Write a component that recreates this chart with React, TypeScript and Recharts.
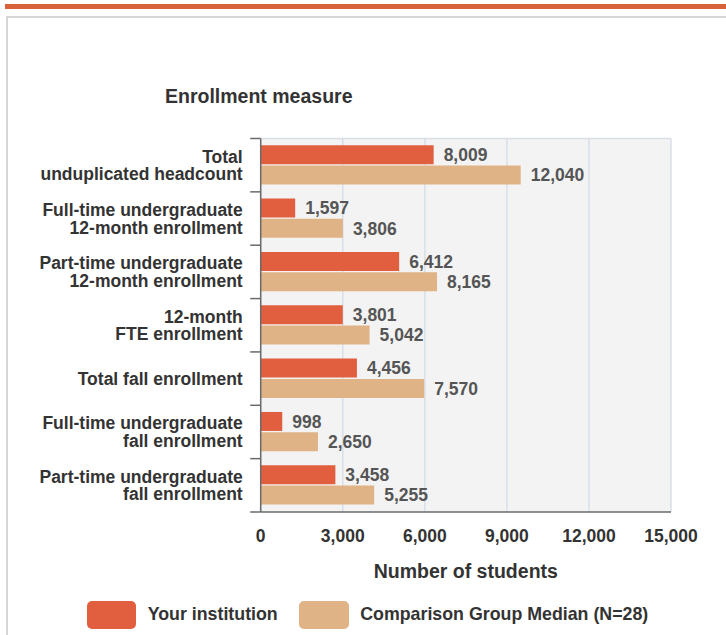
import React from 'react';
import { BarChart, Bar, XAxis, YAxis, CartesianGrid, LabelList } from 'recharts';

const categories = [
    'Total\nunduplicated headcount',
    'Full-time undergraduate\n12-month enrollment',
    'Part-time undergraduate\n12-month enrollment',
    '12-month\nFTE enrollment',
    'Total fall enrollment',
    'Full-time undergraduate\nfall enrollment',
    'Part-time undergraduate\nfall enrollment',
];
const yourInstitution = [8009, 1597, 6412, 3801, 4456, 998, 3458];
const comparisonMedian = [12040, 3806, 8165, 5042, 7570, 2650, 5255];
const xTicks = [0, 3000, 6000, 9000, 12000, 15000];
const seriesNames = ['Your institution', 'Comparison Group Median (N=28)'];

// the source plots its bars on a longer scale than the printed axis
const BAR_SCALE_MAX = 19000;

const RED = '#e15e3e';
const TAN = '#dfb385';
const AXIS = '#6a6a6a';
const GRID = '#d8dfe8';
const FONT = '"Liberation Sans", Arial, sans-serif';

const data = categories.map((name, i) => ({
    name,
    yours: yourInstitution[i],
    median: comparisonMedian[i],
}));

const fmt = (v: any) => Number(v).toLocaleString('en-US');

const CategoryTick = (props: any) => {
    const { x, y, payload } = props;
    const lines = String(payload.value).split('\n');
    const half = payload.offset ?? 0;
    const lineH = 17.7;
    const first = y + 6.2 - ((lines.length - 1) * lineH) / 2;
    const isLast = payload.value === categories[categories.length - 1];
    return (
        <g>
            <line x1={x + 7.5} x2={x + 18} y1={y - half} y2={y - half} stroke={AXIS} strokeWidth={1.5} />
            {isLast && <line x1={x + 7.5} x2={x + 18} y1={y + half} y2={y + half} stroke={AXIS} strokeWidth={1.5} />}
            <text x={x} y={first} textAnchor="end" fill="#333" fontSize={17.5} fontWeight="bold">
                {lines.map((l, i) => (
                    <tspan key={i} x={x} y={first + i * lineH}>{l}</tspan>
                ))}
            </text>
        </g>
    );
};

const App = () => {
    return (
        <div style={{ position: 'absolute', left: 0, top: 0, width: 726, height: 635, overflow: 'hidden', fontFamily: FONT, background: '#fff' }}>
            <div style={{ position: 'absolute', left: 5, top: 4, width: 721, height: 5, background: '#d8623b' }} />
            <div style={{ position: 'absolute', left: 6, top: 16, width: 800, height: 700, borderTop: '2px solid #d6d6d6', borderLeft: '2px solid #d6d6d6' }} />

            <div style={{ position: 'absolute', left: 0, top: 0 }}>
                <BarChart
                    width={726}
                    height={635}
                    data={data}
                    layout="vertical"
                    margin={{ top: 138.5, right: 55, bottom: 93, left: 0 }}
                    barCategoryGap="12.5%"
                    barGap={1.3}
                >
                    <CartesianGrid
                        xAxisId="ticks"
                        fill="#f3f3f3"
                        fillOpacity={1}
                        stroke={GRID}
                        strokeWidth={1.5}
                        horizontalCoordinatesGenerator={({ offset }: any) => [offset.top]}
                    />
                    <XAxis xAxisId="bars" type="number" domain={[0, BAR_SCALE_MAX]} height={0} hide />
                    <XAxis
                        xAxisId="ticks"
                        type="number"
                        domain={[0, 15000]}
                        ticks={xTicks}
                        allowDataOverflow
                        height={30}
                        tickLine={false}
                        tickSize={6}
                        tickMargin={12}
                        axisLine={{ stroke: AXIS, strokeWidth: 1.5 }}
                        tick={{ fill: '#333', fontSize: 17.5, fontWeight: 'bold' }}
                        tickFormatter={fmt}
                    />
                    <YAxis
                        type="category"
                        dataKey="name"
                        width={260.7}
                        interval={0}
                        tickLine={false}
                        tickSize={10}
                        tickMargin={8}
                        axisLine={{ stroke: AXIS, strokeWidth: 1.5 }}
                        tick={<CategoryTick />}
                    />
                    <Bar xAxisId="bars" dataKey="yours" name={seriesNames[0]} fill={RED} isAnimationActive={false}>
                        <LabelList dataKey="yours" position="right" offset={10} formatter={fmt} fill="#555" fontSize={17.5} fontWeight="bold" />
                    </Bar>
                    <Bar xAxisId="bars" dataKey="median" name={seriesNames[1]} fill={TAN} isAnimationActive={false}>
                        <LabelList dataKey="median" position="right" offset={10} formatter={fmt} fill="#555" fontSize={17.5} fontWeight="bold" />
                    </Bar>
                </BarChart>
            </div>

            <svg width={726} height={635} style={{ position: 'absolute', left: 0, top: 0, pointerEvents: 'none' }}>
                <text x={165} y={102.5} fontSize={19.5} fontWeight="bold" fill="#333">Enrollment measure</text>
                <text x={465.8} y={577.5} textAnchor="middle" fontSize={19.5} fontWeight="bold" fill="#333">Number of students</text>
            </svg>

            <div style={{ position: 'absolute', left: 86.7, top: 600.7, display: 'flex', alignItems: 'center', fontSize: 17.8, fontWeight: 'bold', color: '#333' }}>
                <div style={{ width: 49.5, height: 28.3, borderRadius: 5, background: RED, marginRight: 11.5 }} />
                <span style={{ marginRight: 21.5 }}>{seriesNames[0]}</span>
                <div style={{ width: 49.5, height: 28.3, borderRadius: 5, background: TAN, marginRight: 11.5 }} />
                <span>{seriesNames[1]}</span>
            </div>
        </div>
    );
};

export default App;
